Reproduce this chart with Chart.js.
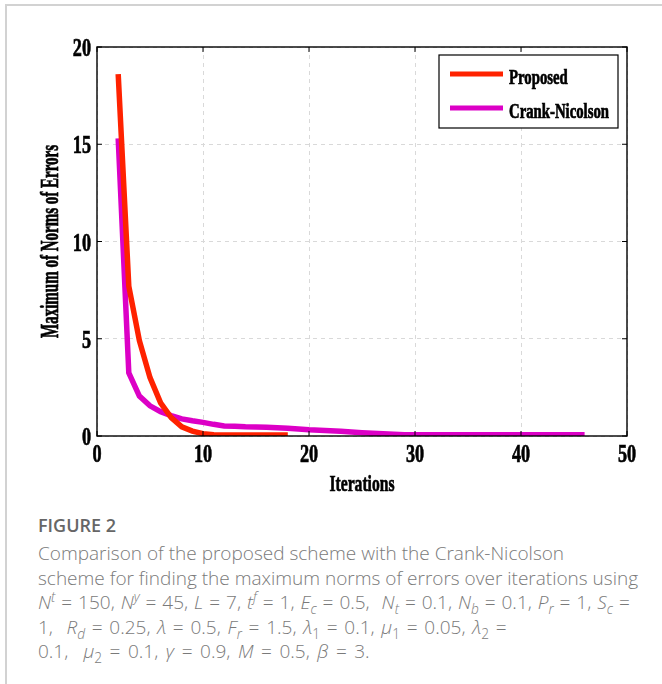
<!DOCTYPE html>
<html>
<head>
<meta charset="utf-8">
<script src="https://cdn.jsdelivr.net/npm/chart.js@4.4.1/dist/chart.umd.min.js"></script>
<style>
    html, body { margin: 0; padding: 0; background: #fff; }
    body { width: 662px; height: 684px; position: relative; overflow: hidden; }
    #frame { position: absolute; left: 5px; top: 4px; right: -2px; bottom: -2px; border-left: 2px solid #d2d2d2; border-top: 2px solid #d2d2d2; }
    #plot { position: absolute; left: 0; top: 0; }
    .cap { position: absolute; left: 38px; font-family: "Open Sans", sans-serif; white-space: nowrap; }
    #figTitle { top: 514px; font-size: 18px; line-height: 22px; font-weight: 600; color: #666; }
    #figText { top: 541px; font-size: 19px; line-height: 24.5px; font-weight: 300; color: #7a7a7a; }
    #figText sub, #figText sup { font-size: 0.72em; line-height: 0; }
    .l3 { word-spacing: 1px; }
    .l4 { word-spacing: 1.8px; }
    .l5 { word-spacing: 2.6px; }
</style>
</head>
<body>
<div id="frame"></div>
<canvas id="plot" width="662" height="505"></canvas>
<div class="cap" id="figTitle">FIGURE 2</div>
<div class="cap" id="figText">
<div>Comparison of the proposed scheme with the Crank-Nicolson</div>
<div>scheme for finding the maximum norms of errors over iterations using</div>
<div class="l3"><i>N</i><sup><i>t</i></sup> = 150, <i>N</i><sup><i>y</i></sup> = 45, <i>L</i> = 7, <i>t</i><sup><i>f</i></sup> = 1, <i>E<sub>c</sub></i> = 0.5,&nbsp; <i>N<sub>t</sub></i> = 0.1, <i>N<sub>b</sub></i> = 0.1, <i>P<sub>r</sub></i> = 1, <i>S<sub>c</sub></i> =</div>
<div class="l4">1,&nbsp; <i>R<sub>d</sub></i> = 0.25, <i>λ</i> = 0.5, <i>F<sub>r</sub></i> = 1.5, <i>λ</i><sub>1</sub> = 0.1, <i>μ</i><sub>1</sub> = 0.05, <i>λ</i><sub>2</sub> =</div>
<div class="l5">0.1,&nbsp; <i>μ</i><sub>2</sub> = 0.1, <i>γ</i> = 0.9, <i>M</i> = 0.5, <i>β</i> = 3.</div>
</div>
<script>
// values
const iterProposed = [2, 3, 4, 5, 6, 7, 8, 9, 10, 11, 12, 13, 14, 15, 16, 17, 18];
const errProposed = [18.6, 7.7, 4.9, 3.0, 1.7, 0.95, 0.47, 0.25, 0.12, 0.06, 0.05, 0.05, 0.05, 0.05, 0.05, 0.05, 0.05];

const iterCN = [2, 3, 4, 5, 6, 7, 8, 9, 10, 11, 12, 13, 14, 15, 16, 17, 18, 19, 20, 21, 22, 23, 24,
    25, 26, 27, 28, 29, 30, 31, 32, 33, 34, 35, 36, 37, 38, 39, 40, 41, 42, 43, 44, 45, 46];
const errCN = [15.3, 3.25, 2.05, 1.55, 1.25, 1.05, 0.88, 0.78, 0.7, 0.6, 0.52, 0.5, 0.47, 0.46, 0.45,
    0.42, 0.4, 0.36, 0.32, 0.3, 0.27, 0.24, 0.2, 0.17, 0.14, 0.12, 0.09, 0.06, 0.06, 0.06, 0.06, 0.06,
    0.06, 0.06, 0.06, 0.06, 0.06, 0.06, 0.06, 0.06, 0.06, 0.06, 0.06, 0.06, 0.06];

const xTicks = [0, 10, 20, 30, 40, 50];
const yTicks = [0, 5, 10, 15, 20];
const seriesNames = ['Proposed', 'Crank-Nicolson'];
const seriesColors = ['#ff2200', '#dc00c6'];

const serif = '"Liberation Serif", "Times New Roman", serif';

// condensed bold text, like the matlab export
function squeeze(ctx, text, x, y, sx, size, align, rot) {
    ctx.save();
    ctx.translate(x, y);
    if (rot) ctx.rotate(rot);
    ctx.scale(sx, 1);
    ctx.font = `bold ${size}px ${serif}`;
    ctx.fillStyle = '#000';
    ctx.strokeStyle = '#000';
    ctx.lineWidth = 0.7;
    ctx.textAlign = align;
    ctx.textBaseline = 'alphabetic';
    ctx.fillText(text, 0, 0);
    ctx.strokeText(text, 0, 0);
    ctx.restore();
}

const matlabAxes = {
    id: 'matlabAxes',
    afterDraw(chart) {
        const { ctx, chartArea: a, scales: { x, y } } = chart;
        ctx.save();
        ctx.strokeStyle = '#000';
        ctx.lineWidth = 1.4;
        ctx.strokeRect(a.left, a.top, a.right - a.left, a.bottom - a.top);

        // inward ticks
        ctx.lineWidth = 1;
        ctx.beginPath();
        x.ticks.forEach(t => {
            const px = x.getPixelForValue(t.value);
            ctx.moveTo(px, a.bottom); ctx.lineTo(px, a.bottom - 5);
            ctx.moveTo(px, a.top); ctx.lineTo(px, a.top + 5);
        });
        y.ticks.forEach(t => {
            const py = y.getPixelForValue(t.value);
            ctx.moveTo(a.left, py); ctx.lineTo(a.left + 5, py);
            ctx.moveTo(a.right, py); ctx.lineTo(a.right - 5, py);
        });
        ctx.stroke();
        ctx.restore();

        // tick labels
        x.ticks.forEach(t => squeeze(ctx, String(t.value), x.getPixelForValue(t.value), a.bottom + 26, 0.7, 26, 'center'));
        y.ticks.forEach(t => squeeze(ctx, String(t.value), a.left - 6, y.getPixelForValue(t.value) + 9, 0.7, 26, 'right'));

        // axis titles
        squeeze(ctx, 'Iterations', (a.left + a.right) / 2, a.bottom + 55, 0.65, 24, 'center');
        squeeze(ctx, 'Maximum of Norms of Errors', 58, (a.top + a.bottom) / 2, 0.6, 25, 'center', -Math.PI / 2);

        // legend box
        const bx = 439, by = 55, bw = 179, bh = 73;
        ctx.save();
        ctx.fillStyle = '#fff';
        ctx.fillRect(bx, by, bw, bh);
        ctx.strokeStyle = '#000';
        ctx.lineWidth = 1.2;
        ctx.strokeRect(bx, by, bw, bh);
        chart.data.datasets.forEach((ds, i) => {
            const ly = 74 + i * 34;
            ctx.strokeStyle = ds.borderColor;
            ctx.lineWidth = 5;
            ctx.beginPath();
            ctx.moveTo(450, ly); ctx.lineTo(503, ly);
            ctx.stroke();
            squeeze(ctx, ds.label, 509, ly + 10, 0.72, 20.5, 'left');
        });
        ctx.restore();
    }
};

new Chart(document.getElementById('plot'), {
    type: 'line',
    data: {
        datasets: [
            {
                label: seriesNames[0],
                data: iterProposed.map((v, i) => ({ x: v, y: errProposed[i] })),
                borderColor: seriesColors[0],
                borderWidth: 5.5,
                pointRadius: 0,
                tension: 0
            },
            {
                label: seriesNames[1],
                data: iterCN.map((v, i) => ({ x: v, y: errCN[i] })),
                borderColor: seriesColors[1],
                borderWidth: 5.5,
                pointRadius: 0,
                tension: 0
            }
        ]
    },
    options: {
        responsive: false,
        animation: false,
        layout: { padding: { left: 0, top: 47, right: 35, bottom: 0 } },
        plugins: {
            legend: { display: false },
            tooltip: { enabled: false }
        },
        scales: {
            x: {
                type: 'linear',
                min: 0, max: 50,
                afterBuildTicks: s => { s.ticks = xTicks.map(v => ({ value: v })); },
                afterFit: s => { s.height = 69; },
                ticks: { display: false },
                grid: { color: '#d9d9d9', lineWidth: 1, drawTicks: false },
                border: { display: false, dash: [4, 4] }
            },
            y: {
                type: 'linear',
                min: 0, max: 20,
                afterBuildTicks: s => { s.ticks = yTicks.map(v => ({ value: v })); },
                afterFit: s => { s.width = 97; },
                ticks: { display: false },
                grid: { color: '#d9d9d9', lineWidth: 1, drawTicks: false },
                border: { display: false, dash: [4, 4] }
            }
        }
    },
    plugins: [matlabAxes]
});
</script>
</body>
</html>
